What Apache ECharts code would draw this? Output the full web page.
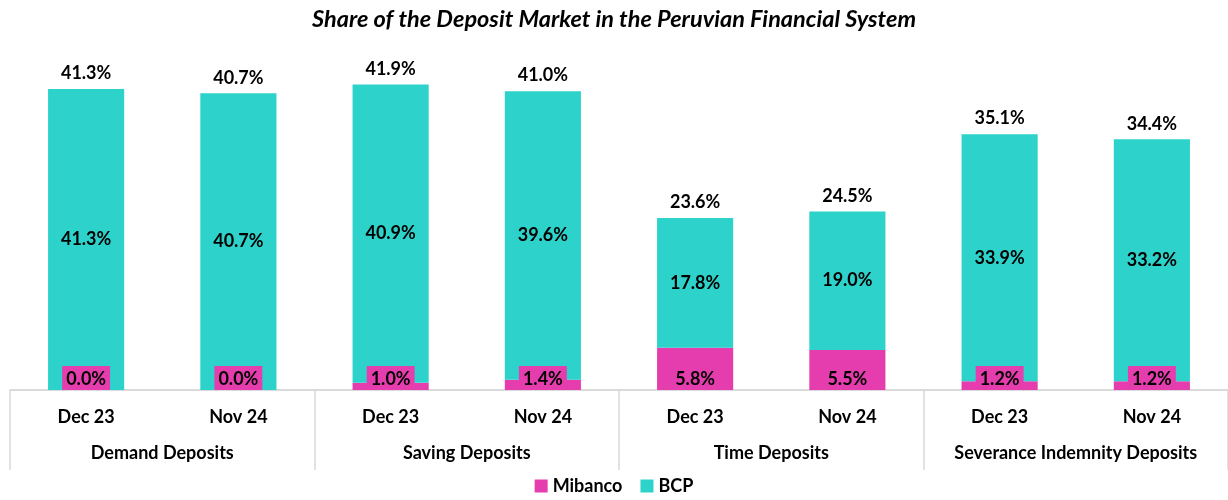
<!DOCTYPE html>
<html>
<head>
<meta charset="utf-8">
<script src="https://cdn.jsdelivr.net/npm/echarts@6/dist/echarts.min.js"></script>
<style>html,body{margin:0;padding:0;background:#fff}#c{width:1228px;height:500px}</style>
</head>
<body>
<div id="c"></div>
<script>
var periods = ['Dec 23','Nov 24','Dec 23','Nov 24','Dec 23','Nov 24','Dec 23','Nov 24'];
var groups = ['Demand Deposits','Saving Deposits','Time Deposits','Severance Indemnity Deposits'];
var mibanco = [0.0, 0.0, 1.0, 1.4, 5.8, 5.5, 1.2, 1.2];
var bcp = [41.3, 40.7, 40.9, 39.6, 17.8, 19.0, 33.9, 33.2];
var totals = [41.3, 40.7, 41.9, 41.0, 23.6, 24.5, 35.1, 34.4];

var FONT = 'Lato';
var PINK = '#E63DAE';
var TEAL = '#2DD3CB';
var GRAY = '#D9D9D9';
var FS = 18;
function pct(v){ return v.toFixed(1) + '%'; }

var chart = echarts.init(document.getElementById('c'));
chart.setOption({
  animation: false,
  textStyle: { fontFamily: FONT },
  title: {
    text: 'Share of the Deposit Market in the Peruvian Financial System',
    left: 'center', top: 3,
    textStyle: { fontFamily: FONT, fontSize: 23.5, fontWeight: 'bold', fontStyle: 'italic', color: '#000' }
  },
  legend: {
    data: ['Mibanco', 'BCP'],
    bottom: 0, left: 'center',
    icon: 'rect', itemWidth: 13, itemHeight: 13, itemGap: 18,
    textStyle: { fontFamily: FONT, fontSize: FS, fontWeight: 'bold', color: '#000' }
  },
  grid: { left: 10, right: -6, top: 62, bottom: 110 },
  xAxis: [{
    type: 'category', data: periods,
    axisLine: { show: true, lineStyle: { color: GRAY, width: 1.5 } },
    axisTick: { show: false },
    axisLabel: { interval: 0, margin: 18, fontFamily: FONT, fontSize: FS, fontWeight: 'bold', color: '#000' }
  }, {
    type: 'category', data: groups, position: 'bottom',
    axisLine: { show: true, lineStyle: { color: GRAY, width: 1.5 } },
    axisTick: { show: true, interval: 0, length: 80, lineStyle: { color: GRAY, width: 1.5 } },
    axisLabel: { interval: 0, margin: 54, fontFamily: FONT, fontSize: FS, fontWeight: 'bold', color: '#000' }
  }],
  yAxis: { type: 'value', min: 0, max: 45, show: false, splitLine: { show: false } },
  series: [{
    name: 'Mibanco', type: 'bar', stack: 'a', data: mibanco, barWidth: '50%',
    itemStyle: { color: PINK },
    label: {
      show: true, position: 'insideBottom', distance: 0,
      formatter: function(p){ return pct(p.value); },
      backgroundColor: PINK, padding: [4, 4, 2, 4],
      fontFamily: FONT, fontSize: FS, fontWeight: 'bold', color: '#000'
    }
  }, {
    name: 'BCP', type: 'bar', stack: 'a', data: bcp, barWidth: '50%',
    itemStyle: { color: TEAL },
    label: {
      show: true, position: 'inside',
      formatter: function(p){ return pct(p.value); },
      fontFamily: FONT, fontSize: FS, fontWeight: 'bold', color: '#000'
    }
  }, {
    name: 'Total', type: 'line', data: totals, silent: true,
    symbol: 'circle', symbolSize: 1, itemStyle: { color: 'rgba(0,0,0,0)' },
    lineStyle: { width: 0, opacity: 0 },
    label: {
      show: true, position: 'top', distance: 6,
      formatter: function(p){ return pct(p.value); },
      fontFamily: FONT, fontSize: FS, fontWeight: 'bold', color: '#000'
    }
  }]
});
</script>
</body>
</html>
